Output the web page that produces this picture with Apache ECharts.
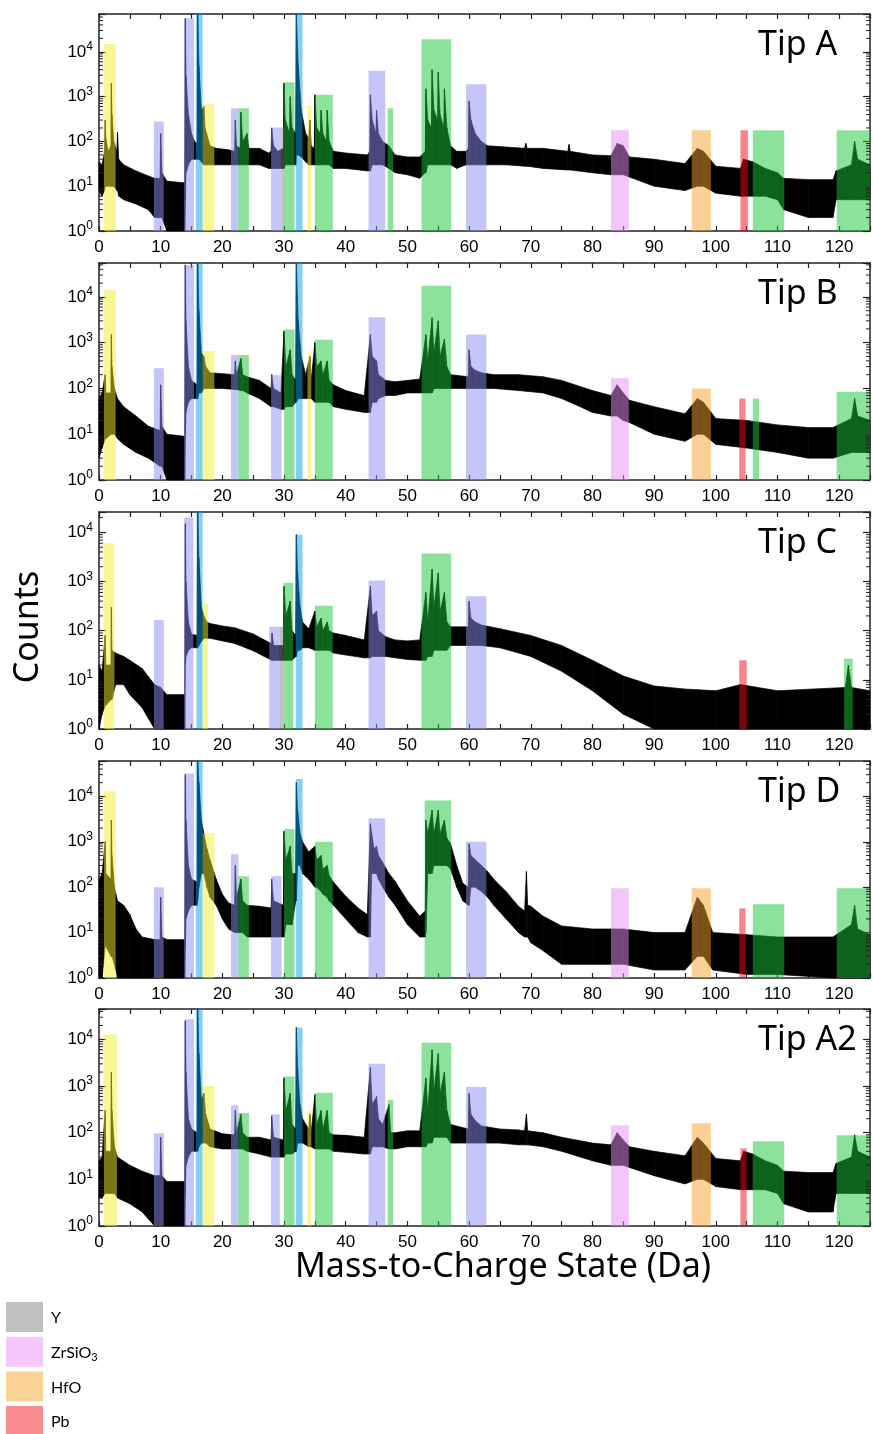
<!DOCTYPE html>
<html><head><meta charset="utf-8">
<script src="https://cdn.jsdelivr.net/npm/echarts@6/dist/echarts.min.js"></script>
<style>html,body{margin:0;padding:0;background:#fff}#c{width:873px;height:1434px}</style>
</head><body><div id="c"></div>
<script>
// ---------- DATA ----------
const tipNames = ['Tip A', 'Tip B', 'Tip C', 'Tip D', 'Tip A2'];
const yMaxes = [70000, 55000, 26000, 60000, 45000];
const xTickLabels = [0, 10, 20, 30, 40, 50, 60, 70, 80, 90, 100, 110, 120];

// spectrum envelopes: [mass-to-charge (Da), lower count, upper count]
const specA = [[0,8,35],[0.5,6,30],[0.9,8,60],[1,10,300],[1.1,10,120],[1.5,10,60],[1.95,10,80],[2,10,2000],[2.1,10,400],[2.4,10,100],[2.9,8,60],[3,8,160],[3.2,6,40],[4,5,30],[6,4,22],[8,3,17],[9,2,15],[9.9,2,15],[10,2,150],[10.2,2,20],[11,1,13],[13.5,1,12],[13.9,1,12],[14,5,55000],[14.1,20,3000],[14.5,30,400],[15,40,150],[15.5,40,100],[15.9,40,90],[16,40,200000],[16.2,40,5000],[16.6,35,500],[17,30,600],[17.2,30,200],[18,30,80],[19,30,70],[21,30,65],[22,30,60],[22.1,30,300],[22.3,30,80],[22.9,30,70],[23,30,450],[23.3,30,100],[24,30,150],[24.3,30,70],[26,30,70],[27.5,25,55],[27.9,25,60],[28,25,200],[28.3,25,80],[29,25,60],[29.9,25,70],[30,25,2000],[30.2,30,300],[30.9,30,150],[31,30,1000],[31.3,30,200],[31.9,30,150],[32,50,200000],[32.3,50,5000],[32.8,45,500],[33.5,35,150],[34,30,120],[34.2,30,300],[34.4,30,80],[34.9,30,70],[35,30,1100],[35.3,30,200],[35.9,30,150],[36,30,500],[36.3,30,150],[36.9,30,100],[37,30,500],[37.3,30,100],[38,25,60],[40,25,55],[43.5,22,50],[43.9,22,60],[44,22,1100],[44.3,30,300],[44.9,30,150],[45,30,500],[45.3,30,150],[46,30,100],[47,25,80],[48,20,50],[50,18,45],[52,15,45],[52.9,20,60],[53,20,1500],[53.3,30,300],[53.9,30,200],[54,30,4000],[54.3,30,500],[54.9,30,300],[55,30,3500],[55.3,30,400],[55.9,30,200],[56,30,1500],[56.4,30,200],[57,30,80],[58,25,60],[59.5,30,60],[59.9,30,70],[60,30,800],[60.3,30,300],[61,30,150],[62,30,100],[63,30,80],[66,30,75],[69,28,70],[69.2,28,90],[69.4,28,70],[72,25,70],[76,23,60],[76.2,23,85],[76.4,23,60],[80,20,50],[83,18,48],[84,18,90],[85,18,80],[86,16,45],[90,10,40],[95,8,32],[97,10,70],[98,10,60],[100,7,28],[104,6,25],[104.5,6,40],[106,6,35],[108,6,25],[110,5,20],[111,3,15],[115,2,14],[119,2,14],[119.5,5,22],[122,5,30],[122.5,5,100],[123,5,40],[125,5,30]];
const specB = [[0,3,60],[0.5,5,80],[1,8,200],[1.1,8,80],[1.95,10,80],[2,10,1500],[2.1,10,300],[2.5,10,100],[3,8,60],[4,6,40],[6,4,25],[8,3,15],[9.9,2,12],[10,2,120],[10.2,2,15],[11,1,10],[13.9,1,9],[14,10,50000],[14.1,30,3000],[14.5,50,300],[15,60,150],[15.9,60,120],[16,60,200000],[16.2,80,5000],[16.6,80,600],[17,100,500],[17.3,100,300],[18,100,220],[20,100,210],[22,95,200],[22.1,95,400],[22.3,95,200],[23,90,450],[23.3,90,200],[24,80,180],[26,60,150],[27.9,40,100],[28,40,200],[28.3,40,100],[29.5,35,80],[30,35,1800],[30.3,40,300],[31,40,700],[31.3,40,200],[31.9,50,150],[32,50,200000],[32.3,60,3000],[32.8,60,500],[33.5,60,200],[34.2,60,500],[34.4,60,150],[35,50,1000],[35.3,50,300],[36,50,400],[36.3,50,200],[37,50,400],[37.3,50,150],[38,40,120],[40,35,90],[43,30,70],[44,30,1500],[44.3,50,500],[45,50,400],[45.3,60,200],[46.5,70,150],[48,70,140],[50,80,150],[52,80,160],[53,80,1500],[53.3,80,400],[54,80,3500],[54.3,100,600],[55,100,3000],[55.3,100,500],[56,100,1200],[56.4,100,300],[57,100,200],[59.9,100,180],[60,100,700],[60.3,100,300],[61,100,250],[62,100,220],[64,100,200],[68,90,200],[72,80,180],[75,60,150],[78,40,110],[80,30,90],[83,25,70],[84,25,120],[85,20,80],[86,18,55],[90,10,40],[95,7,28],[97,10,60],[98,10,50],[100,6,22],[105,5,20],[110,4,16],[115,3,14],[119,3,14],[122,4,22],[122.5,4,60],[123,4,25],[125,4,20]];
const specC = [[0,1,20],[0.5,2,15],[1,3,80],[1.1,3,20],[1.95,4,20],[2,4,300],[2.1,4,40],[2.7,8,35],[4,8,30],[5,5,25],[7,2.7,17],[9,1,8],[10,1,7],[11,1,5],[13.9,1,5],[14,20,15000],[14.1,30,1000],[14.5,40,150],[15,45,85],[15.9,45,80],[16,45,200000],[16.2,50,3000],[16.6,60,300],[17,70,200],[17.5,70,150],[18,70,140],[20,62,125],[22,55,115],[25,39,86],[28,25,54],[28.05,25,90],[28.3,25,50],[29.9,25,50],[30,25,800],[30.3,25,200],[31,25,400],[31.3,25,100],[31.9,30,80],[32,30,9000],[32.2,40,1500],[32.6,40,300],[33,45,150],[34,45,110],[35,40,250],[35.3,40,120],[36,40,180],[36.3,40,100],[37,40,150],[37.3,40,100],[38,35,90],[40,32,80],[43,28,65],[44,28,800],[44.3,30,200],[45,30,250],[45.3,30,100],[46.5,30,75],[48,28,65],[50,26,62],[52,25,65],[53,25,600],[53.3,30,150],[54,30,1800],[54.3,40,300],[55,40,1500],[55.3,40,250],[56,40,600],[56.4,40,150],[57,50,120],[59.9,50,120],[60,50,400],[60.3,50,180],[61,50,150],[62,50,130],[65,45,110],[70,30,80],[75,15,50],[80,6,25],[85,2,12],[90,1,7.5],[95,1,6.5],[100,1,6],[104,1,8],[110,1,6],[121,1,7],[121.5,1,20],[122,1,7],[125,1,6]];
const specD = [[0,1,150],[0.5,1,200],[1,5,1000],[1.1,5,200],[1.95,3,150],[2,3,3000],[2.1,3,500],[2.5,2,100],[3,1,50],[4,1,40],[5,1,25],[6,1,12],[7,1,8],[9,1,7],[9.9,1,7],[10,1,60],[10.2,1,8],[11,1,7],[13.9,1,7],[14,5,30000],[14.1,20,3000],[14.5,30,300],[15,40,150],[15.9,40,130],[16,50,200000],[16.2,100,20000],[16.6,200,3000],[17,200,1500],[17.5,100,700],[18,60,400],[19,40,150],[20,20,70],[21,12,45],[22,10,40],[22.1,10,300],[22.3,10,60],[23,10,150],[23.3,10,50],[24,8,40],[26,8,38],[27.9,8,35],[28,8,150],[28.3,8,50],[29.9,8,40],[30,8,1700],[30.3,15,400],[31,15,800],[31.3,15,200],[31.9,50,200],[32,50,20000],[32.2,300,5000],[32.6,300,1500],[33,200,1000],[34,150,600],[35,100,800],[35.3,100,400],[36,80,500],[36.3,70,250],[37,60,300],[37.3,50,180],[38,40,130],[40,20,63],[42,10,35],[43.5,8,25],[44,8,2500],[44.2,200,1500],[44.6,200,700],[45,200,800],[45.3,150,500],[46,100,350],[47,60,200],[48,40,135],[50,15,50],[52,8,23],[52.9,8,30],[53,10,3000],[53.3,200,1500],[54,200,5000],[54.3,300,1500],[55,300,5000],[55.3,300,1500],[56,300,3000],[56.4,300,1200],[57,250,900],[58,100,300],[59,50,120],[59.9,40,100],[60,40,900],[60.3,100,500],[61,100,400],[62,80,300],[63,60,220],[64,40,150],[66,20,80],[68,10,38],[69,8,30],[69.3,8,220],[69.5,8,40],[70,6,38],[72,4,23],[75,2,14],[80,2,12],[85,2,12],[90,1.5,10],[95,1.5,10],[97,3,60],[98,3,40],[99.5,1.5,10],[105,1.2,9],[110,1.2,8],[119,1,8],[122,1,15],[122.5,1,40],[123,1,12],[125,1,9]];
const specE = [[0,4,25],[0.5,4,30],[1,5,300],[1.1,5,40],[1.95,5,40],[2,5,2000],[2.1,5,300],[2.5,5,50],[3,4,30],[5,3,20],[7,2,15],[9,1,12],[9.9,1,12],[10,1,80],[10.2,1,12],[11,1,9],[13.9,1,9],[14,5,25000],[14.1,20,2000],[14.5,30,200],[15,40,120],[15.9,40,100],[16,40,200000],[16.2,50,5000],[16.6,60,500],[17,60,700],[17.3,60,250],[18,50,120],[20,45,95],[22,45,90],[22.1,45,300],[22.3,45,100],[23,45,250],[23.3,45,100],[24,40,80],[26,35,80],[27.9,30,70],[28,30,230],[28.3,30,80],[29.9,30,70],[30,30,1500],[30.3,35,300],[31,35,700],[31.3,35,150],[31.9,40,120],[32,40,18000],[32.2,60,2500],[32.6,60,400],[33,60,200],[34,50,120],[34.2,50,250],[34.4,50,100],[35,45,650],[35.3,45,150],[36,45,300],[36.3,45,120],[37,45,300],[37.3,45,100],[38,40,90],[40,38,88],[43,35,80],[44,35,2500],[44.3,50,400],[45,50,600],[45.3,50,200],[46,50,150],[47,45,400],[47.3,45,100],[48,45,100],[50,50,110],[52,50,110],[53,50,1500],[53.3,60,300],[54,60,6000],[54.3,80,800],[55,80,5000],[55.3,80,700],[56,80,2000],[56.4,80,300],[57,60,150],[59.9,60,120],[60,60,700],[60.3,60,250],[61,60,180],[62,60,140],[65,60,120],[68,55,115],[69,55,110],[69.3,55,250],[69.5,55,110],[72,50,100],[75,40,80],[80,25,60],[83,20,55],[84,20,100],[85,20,70],[86,18,50],[90,12,40],[95,8,32],[97,10,80],[98,10,60],[100,7,28],[104,6,25],[104.5,6,40],[106,6,35],[108,6,25],[110,5,20],[111,3,15],[115,2,14],[119,2,14],[119.5,5,22],[122,5,30],[122.5,5,90],[123,5,40],[125,5,30]];

// highlighted ranges: [from Da, to Da, top count, colour key]
const boxesA = [[0.8,2.7,15000,'yel'],[8.9,10.5,280,'lav'],[13.8,15.4,56000,'lav'],[15.7,16.8,200000,'blu'],[16.8,18.7,680,'yel'],[21.4,22.6,550,'lav'],[22.6,24.3,550,'grn'],[27.9,29.6,205,'lav'],[29.6,30.0,205,'gry'],[30.0,31.7,2100,'grn'],[31.9,33.0,200000,'blu'],[33.8,34.4,650,'yel'],[35.0,37.9,1100,'grn'],[43.7,46.4,3800,'lav'],[46.8,47.7,550,'grn'],[52.3,57.1,19000,'grn'],[59.5,62.8,1900,'lav'],[83.0,85.9,177,'pnk'],[96.1,99.2,177,'org'],[104.0,105.2,177,'red'],[106.0,111.1,177,'grn'],[119.6,125,177,'grn']];
const boxesB = [[0.8,2.7,14000,'yel'],[8.9,10.5,277,'lav'],[13.8,15.4,50000,'lav'],[15.7,16.8,200000,'blu'],[16.8,18.7,660,'yel'],[21.4,22.6,540,'lav'],[22.6,24.3,540,'grn'],[27.9,29.6,195,'lav'],[30.0,31.7,1950,'grn'],[31.9,33.0,200000,'blu'],[33.8,34.4,600,'yel'],[35.0,37.9,1160,'grn'],[43.7,46.4,3600,'lav'],[52.3,57.1,17500,'grn'],[59.5,62.8,1500,'lav'],[83.0,85.9,166,'pnk'],[96.1,99.2,100,'org'],[103.8,104.8,60,'red'],[106.0,107.0,60,'grn'],[119.6,125,85,'grn']];
const boxesC = [[0.8,2.5,6000,'yel'],[8.9,10.5,166,'lav'],[13.8,15.3,20000,'lav'],[15.8,16.8,200000,'blu'],[16.8,17.7,355,'yel'],[27.6,29.3,120,'lav'],[29.3,29.9,120,'gry'],[29.9,31.5,950,'grn'],[31.9,33.0,9000,'blu'],[35.0,37.9,320,'grn'],[43.7,46.4,1050,'lav'],[52.3,57.1,3700,'grn'],[59.5,62.8,500,'lav'],[103.8,105.0,25,'red'],[120.8,122.2,27,'grn']];
const boxesD = [[0.8,2.7,13000,'yel'],[8.9,10.5,100,'lav'],[13.8,15.4,32000,'lav'],[15.7,16.8,200000,'blu'],[16.8,18.7,1540,'yel'],[21.4,22.6,530,'lav'],[22.6,24.3,175,'grn'],[27.9,29.6,175,'lav'],[30.0,31.7,1900,'grn'],[31.9,33.0,24000,'blu'],[35.0,37.9,1000,'grn'],[43.7,46.4,3300,'lav'],[52.8,57.1,8100,'grn'],[59.5,62.8,1000,'lav'],[83.0,85.9,95,'pnk'],[96.1,99.2,95,'org'],[103.8,104.8,34,'red'],[106.0,111.1,42,'grn'],[119.6,125,95,'grn']];
const boxesE = [[0.8,2.9,13000,'yel'],[8.9,10.5,98,'lav'],[13.8,15.4,27000,'lav'],[15.7,16.8,200000,'blu'],[16.8,18.7,1000,'yel'],[21.4,22.6,390,'lav'],[22.6,24.3,265,'grn'],[27.9,29.3,250,'lav'],[30.0,31.7,1600,'grn'],[31.9,33.0,18000,'blu'],[33.8,34.4,300,'yel'],[35.0,37.9,720,'grn'],[43.7,46.4,3000,'lav'],[46.8,47.7,500,'grn'],[52.3,57.1,8500,'grn'],[59.5,62.8,960,'lav'],[83.0,85.9,145,'pnk'],[96.1,99.2,160,'org'],[104.0,105.0,46,'red'],[106.0,111.1,66,'grn'],[119.6,125,88,'grn']];

const legendNames = ['Y', 'ZrSiO3', 'HfO', 'Pb'];
const legendColors = ['#c0c0c0', '#f4c8fa', '#fad296', '#f98c91'];

// ---------- STYLE ----------
const BOX_COLORS = {yel:'#f1ed2d', lav:'#8b8bf1', blu:'#09a1eb', grn:'#19c537', pnk:'#e58df1', org:'#f7a12d', red:'#f10715', gry:'#818181'};
const GRID_TOPS = [14, 263, 512, 761, 1009];
const GRID_H = 217;
const AX = '#222';
const specs = [specA, specB, specC, specD, specE];
const boxes = [boxesA, boxesB, boxesC, boxesD, boxesE];

const chart = echarts.init(document.getElementById('c'), null, {renderer: 'canvas'});
const grid = [], xAxis = [], yAxis = [], series = [], graphic = [];

function yLabel(v) {
  const e = Math.round(Math.log10(v));
  if (Math.abs(v - Math.pow(10, e)) > 1e-6 * v) return '';
  return '{b|10}{s|' + e + '}';
}

for (let i = 0; i < 5; i++) {
  const ymax = yMaxes[i];
  grid.push({left: 99, right: 1, top: GRID_TOPS[i], height: GRID_H});
  const xCommon = {gridIndex: i, type: 'value', min: 0, max: 125, interval: 5,
    axisLine: {onZero: false, lineStyle: {color: AX, width: 1.5}},
    axisTick: {inside: true, length: 5, lineStyle: {color: AX, width: 1.2}},
    splitLine: {show: false}};
  xAxis.push(Object.assign({}, xCommon, {position: 'bottom',
    axisLabel: {margin: 8, fontSize: 17, color: '#000', fontFamily: 'Liberation Sans',
      formatter: v => xTickLabels.includes(v) ? String(v) : ''}}));
  xAxis.push(Object.assign({}, xCommon, {position: 'top', axisLabel: {show: false}}));
  const yCommon = {gridIndex: i, type: 'log', logBase: 10, min: 1, max: ymax,
    axisLine: {onZero: false, lineStyle: {color: AX, width: 1.5}},
    axisTick: {inside: true, length: 7, lineStyle: {color: AX, width: 1.2}},
    splitLine: {show: false}};
  yAxis.push(Object.assign({}, yCommon, {position: 'left',
    axisLabel: {margin: 6, formatter: yLabel,
      rich: {b: {fontSize: 17, fontFamily: 'Liberation Sans', color: '#000', lineHeight: 22},
             s: {fontSize: 12, fontFamily: 'Liberation Sans', color: '#000', lineHeight: 10, verticalAlign: 'top'}}}}));
  yAxis.push(Object.assign({}, yCommon, {position: 'right', axisLabel: {show: false}}));

  const rows = specs[i];
  const cl = v => Math.max(1, Math.min(ymax, v));
  series.push({type: 'custom', xAxisIndex: 2*i, yAxisIndex: 2*i, z: 2, silent: true,
    data: rows, encode: {x: 0, y: [1, 2]},
    renderItem: (params, api) => {
      const k = params.dataIndex;
      if (k >= rows.length - 1) return null;
      const a = rows[k], b = rows[k+1];
      const pts = [api.coord([a[0], cl(a[1])]), api.coord([a[0], cl(a[2])]),
                   api.coord([b[0], cl(b[2])]), api.coord([b[0], cl(b[1])])];
      return {type: 'polygon', shape: {points: pts}, style: {fill: '#000', stroke: '#000', lineWidth: 0.7}};
    }});
  const bx = boxes[i];
  series.push({type: 'custom', xAxisIndex: 2*i, yAxisIndex: 2*i, z: 3, silent: true,
    data: bx.map(r => [r[0], r[1], r[2]]), encode: {x: [0, 1], y: 2},
    renderItem: (params, api) => {
      const r = bx[params.dataIndex];
      const p0 = api.coord([r[0], cl(r[2])]), p1 = api.coord([r[1], 1]);
      return {type: 'rect', shape: {x: p0[0], y: p0[1], width: p1[0] - p0[0], height: p1[1] - p0[1]},
        style: {fill: BOX_COLORS[r[3]], opacity: 0.5}};
    }});
  // log minor ticks (2..9 x 10^k)
  const minors = [];
  for (let e = 0; e < 6; e++) for (let m = 2; m <= 9; m++) { const v = m * Math.pow(10, e); if (v < ymax) minors.push([0, v]); }
  series.push({type: 'custom', xAxisIndex: 2*i, yAxisIndex: 2*i, z: 5, silent: true,
    data: minors, encode: {x: 0, y: 1},
    renderItem: (params, api) => {
      const v = minors[params.dataIndex][1];
      const pl = api.coord([0, v]), pr = api.coord([125, v]);
      return {type: 'group', children: [
        {type: 'line', shape: {x1: pl[0], y1: pl[1], x2: pl[0] + 4, y2: pl[1]}, style: {stroke: AX, lineWidth: 1}},
        {type: 'line', shape: {x1: pr[0], y1: pr[1], x2: pr[0] - 4, y2: pr[1]}, style: {stroke: AX, lineWidth: 1}}]};
    }});
  graphic.push({type: 'text', x: 758, y: GRID_TOPS[i] + 31, z: 10,
    style: {text: tipNames[i], fontSize: 34, fontFamily: 'Noto Sans', fill: '#000', verticalAlign: 'middle'}});
}

graphic.push({type: 'text', x: 28, y: 627, rotation: Math.PI / 2,
  style: {text: 'Counts', fontSize: 34, fontFamily: 'Noto Sans', fill: '#000', align: 'center', verticalAlign: 'middle'}});
graphic.push({type: 'text', x: 503, y: 1267,
  style: {text: 'Mass-to-Charge State (Da)', fontSize: 34, fontFamily: 'Noto Sans', fill: '#000', align: 'center', verticalAlign: 'middle'}});
legendNames.forEach((n, k) => {
  const y0 = 1302 + k * 34.7;
  graphic.push({type: 'rect', shape: {x: 6, y: y0, width: 37, height: 30}, style: {fill: legendColors[k]}});
  const txt = n === 'ZrSiO3' ? 'ZrSiO{s|3}' : n;
  graphic.push({type: 'text', x: 51, y: y0 + 16,
    style: {text: txt, fontSize: 16, fontFamily: 'Lato', fill: '#000', verticalAlign: 'middle',
      rich: {s: {fontSize: 11, fontFamily: 'Lato', fill: '#000', verticalAlign: 'bottom', padding: [9, 0, 0, 0]}}}});
});

chart.setOption({animation: false, backgroundColor: '#fff', grid, xAxis, yAxis, series, graphic});
</script></body></html>
